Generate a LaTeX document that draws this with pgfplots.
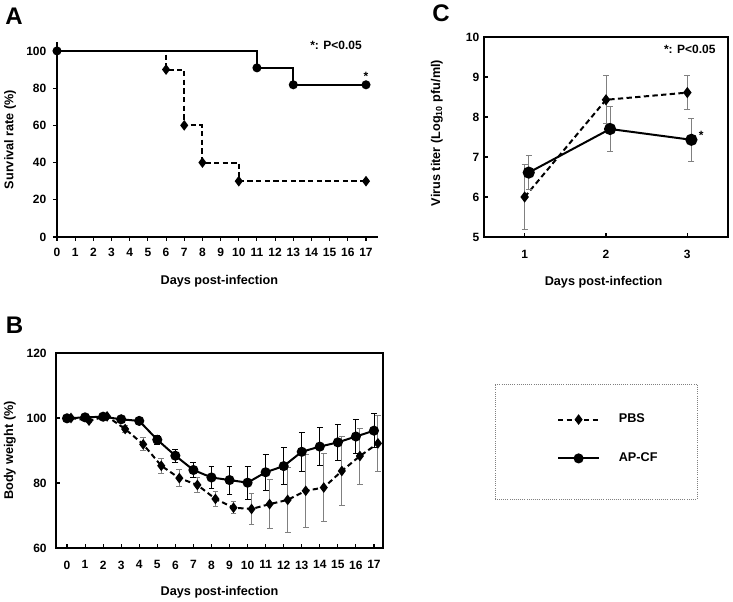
\documentclass[border=0pt]{standalone}
\usepackage{fontspec}
\setmainfont{Liberation Sans}
\usepackage{pgfplots}
\pgfplotsset{compat=1.18}

\pgfplotsset{
  panel/.style={scale only axis, anchor=south west, clip=false,
    /pgf/number format/assume math mode=true,
    tick label style={font=\fontsize{9}{10}\selectfont\bfseries},
    label style={font=\fontsize{9.5}{11}\selectfont\bfseries},
    axis line style={line width=1.2pt},
    major tick length=3pt, tick style={line width=0.8pt, black}},
  pbs/.style={black, line width=1.5pt, dash pattern=on 4pt off 2.5pt,
    mark=diamond*, mark size=2.8pt, mark options={solid}},
  apcf/.style={black, line width=1.5pt, solid, mark=*, mark size=3pt},
  ebar/.style={error bars/.cd, y dir=both, y explicit,
    error bar style={#1, line width=0.7pt, solid},
    error mark options={rotate=90, mark size=2.2pt, #1, line width=0.7pt, solid}},
}

\pgfplotstableread{
x y e
0.22 100.0 0.3
1.22 99.2 0.5
2.22 100.5 0.4
3.22 96.6 1.0
4.22 91.9 2.0
5.22 85.3 2.3
6.22 81.5 2.6
7.22 79.4 2.2
8.22 75.1 2.3
9.22 72.4 1.9
10.22 72.0 4.7
11.22 73.5 7.6
12.22 74.8 10.0
13.22 77.6 11.2
14.22 78.6 10.4
15.22 83.7 10.6
16.22 88.3 8.6
17.22 92.2 8.6
}\weightpbs

\pgfplotstableread{
x y e
0 99.9 0.3
1 100.2 0.4
2 100.4 0.5
3 99.6 0.5
4 99.1 0.6
5 93.3 1.4
6 88.4 2.0
7 84.0 2.4
8 81.7 3.4
9 80.9 4.3
10 80.1 5.1
11 83.3 5.5
12 85.2 5.8
13 89.6 5.9
14 91.2 5.8
15 92.5 5.6
16 94.3 5.3
17 96.1 5.3
}\weightapcf

\pgfplotstableread{
x y e
1 6.00 0.82
2 8.43 0.60
3 8.61 0.42
}\titerpbs

\pgfplotstableread{
x y e
1.05 6.61 0.42
2.05 7.70 0.56
3.05 7.43 0.54
}\titerapcf

\begin{document}
\begin{tikzpicture}
\path[use as bounding box] (0,0) rectangle (549.75pt,451.5pt);

% panel letters
\node[font=\fontsize{18}{20}\selectfont\bfseries] at (10.5pt,439.5pt) {A};
\node[font=\fontsize{18}{20}\selectfont\bfseries] at (330.75pt,441.75pt) {C};
\node[font=\fontsize{18}{20}\selectfont\bfseries] at (10.9pt,207.75pt) {B};

% A: survival
\begin{axis}[panel, at={(42.75pt,273.75pt)}, width=240.75pt, height=146.25pt,
  xmin=0, xmax=17.66, ymin=0, ymax=104.8,
  axis lines=left, axis line style={-}, tick align=outside,
  xtick={0,...,17}, ytick={0,20,...,100},
  xticklabel style={yshift=-2pt}, yticklabel style={xshift=-1.5pt},
  xlabel={Days post-infection}, ylabel={Survival rate (\%)},
  xlabel style={at={(axis description cs:0.506,-0.226)}, anchor=center},
  ylabel style={at={(axis description cs:-0.146,0.5)}, anchor=center}]
\addplot[pbs, const plot] coordinates {(0,100) (6,90) (7,60) (8,40) (10,30) (17,30)};
\addplot[apcf, const plot, mark size=2.6pt] coordinates {(0,100) (11,90.9) (13,81.8) (17,81.8)};
\node[font=\fontsize{9}{10}\selectfont\bfseries] at (axis cs:17,86.5) {*};
\node[font=\fontsize{9}{10}\selectfont\bfseries] at (axis cs:15.35,103.2) {*: P<0.05};
\end{axis}

% C: virus titer
\begin{axis}[panel, at={(363pt,273.75pt)}, width=183pt, height=150pt,
  xmin=0.5, xmax=3.5, ymin=5, ymax=10,
  xtick={1,2,3}, ytick={5,...,10}, tick align=inside,
  xtick pos=left, ytick pos=left,
  xticklabel style={yshift=-6.5pt},
  xlabel={Days post-infection}, ylabel={Virus titer (Log\textsubscript{10} pfu/ml)},
  xlabel style={at={(axis description cs:0.49,-0.225)}, anchor=center},
  ylabel style={at={(axis description cs:-0.193,0.52)}, anchor=center}]
\addplot[pbs, mark size=3pt, ebar=gray] table[x=x, y=y, y error=e] {\titerpbs};
\addplot[apcf, mark size=3.8pt, ebar=gray] table[x=x, y=y, y error=e] {\titerapcf};
\node[font=\fontsize{9}{10}\selectfont\bfseries] at (axis cs:3.17,7.55) {*};
\node[font=\fontsize{9}{10}\selectfont\bfseries] at (axis cs:3.03,9.68) {*: P<0.05};
\end{axis}

% B: body weight
\begin{axis}[panel, at={(42pt,40.5pt)}, width=245.25pt, height=146.25pt,
  xmin=-0.61, xmax=17.5, ymin=60, ymax=120,
  xtick={0,...,17}, ytick={60,80,...,120}, tick align=inside,
  xtick pos=left, ytick pos=left,
  xticklabel style={yshift=-6pt}, yticklabel style={xshift=-3.5pt},
  xlabel={Days post-infection}, ylabel={Body weight (\%)},
  xlabel style={at={(axis description cs:0.50,-0.226)}, anchor=center},
  ylabel style={at={(axis description cs:-0.141,0.50)}, anchor=center},
  legend image code/.code={\draw[mark repeat=2, mark phase=2, #1]
    plot coordinates {(0pt,0pt) (15.4pt,0pt) (30.8pt,0pt)};},
  legend style={at={(axis description cs:1.69,0.559)}, anchor=center,
    draw=none, fill=none, font=\fontsize{9.5}{11}\selectfont\bfseries,
    row sep=17pt, column sep=12pt, cells={anchor=west}}]
\addplot[pbs, ebar=gray] table[x=x, y=y, y error=e] {\weightpbs};
\addplot[apcf, ebar=black] table[x=x, y=y, y error=e] {\weightapcf};
\legend{PBS, AP-CF}
\end{axis}

% legend frame
\draw[gray, densely dotted, line width=0.6pt] (371.25pt,77.25pt) rectangle (522.75pt,163.5pt);
\end{tikzpicture}
\end{document}
